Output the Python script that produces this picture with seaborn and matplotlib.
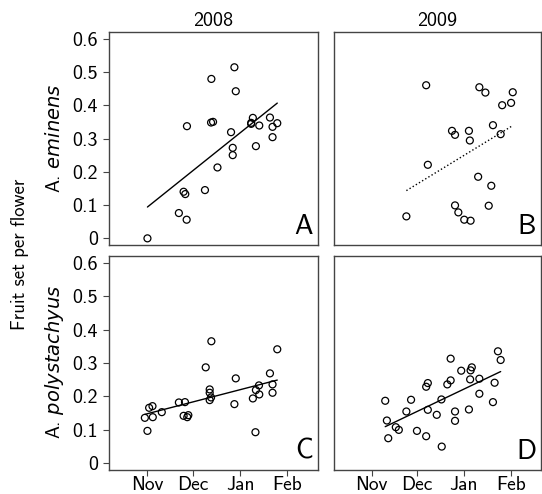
import numpy as np
import pandas as pd
import matplotlib
matplotlib.use("Agg")
import matplotlib.pyplot as plt
import seaborn as sns

sns.set_style("ticks")
plt.rcParams['font.family'] = ['cmss10', 'DejaVu Sans']
plt.rcParams['mathtext.fontset'] = 'custom'
plt.rcParams['mathtext.rm'] = 'cmss10'
plt.rcParams['mathtext.it'] = 'DejaVu Sans:italic'
plt.rcParams['axes.unicode_minus'] = False
plt.rcParams['text.color'] = 'black'

# days since 1 Nov, fruit set per flower
em08_day = [0.2, 20.8, 25.9, 23.9, 25.0, 26.1, 37.9, 42.1, 41.9, 43.2, 46.1, 55.0, 56.1,
            56.1, 57.2, 58.1, 69.3, 68.2, 68.2, 71.3, 73.5, 80.5, 82.2, 82.2, 85.3]
em08_fs = [0.0, 0.076, 0.056, 0.140, 0.133, 0.337, 0.145, 0.479, 0.348, 0.350, 0.213, 0.319,
           0.272, 0.250, 0.514, 0.442, 0.362, 0.347, 0.344, 0.277, 0.339, 0.363, 0.335,
           0.304, 0.346]

em09_day = [22.9, 36.0, 37.1, 53.1, 55.1, 55.1, 57.3, 61.2, 65.4, 64.3, 64.9, 70.4, 71.2,
            75.2, 77.4, 79.1, 80.2, 85.3, 86.3, 92.2, 93.3]
em09_fs = [0.066, 0.460, 0.221, 0.323, 0.311, 0.099, 0.078, 0.056, 0.053, 0.323, 0.294,
           0.185, 0.454, 0.438, 0.098, 0.158, 0.340, 0.313, 0.400, 0.407, 0.439]

po08_day = [-1.5, 0.2, 1.3, 3.5, 3.7, 9.6, 20.8, 24.8, 23.9, 26.3, 27.0, 38.4, 42.1, 41.0,
            41.0, 41.9, 41.0, 57.2, 58.1, 69.3, 71.3, 71.0, 73.3, 73.5, 80.5, 82.2, 82.2, 85.3]
po08_fs = [0.136, 0.097, 0.166, 0.171, 0.138, 0.153, 0.182, 0.183, 0.142, 0.138, 0.144,
           0.287, 0.365, 0.221, 0.211, 0.197, 0.189, 0.177, 0.254, 0.194, 0.219, 0.093,
           0.233, 0.206, 0.269, 0.236, 0.211, 0.341]

po09_day = [8.9, 10.0, 10.9, 15.9, 17.9, 22.9, 26.0, 29.9, 36.0, 36.0, 37.1, 37.1, 43.0,
            46.1, 46.3, 50.0, 52.2, 52.2, 55.1, 55.1, 59.2, 64.3, 65.1, 65.4, 66.2, 71.2,
            71.2, 80.2, 81.3, 83.5, 85.3]
po09_fs = [0.187, 0.128, 0.075, 0.108, 0.100, 0.155, 0.190, 0.097, 0.081, 0.229, 0.240,
           0.160, 0.145, 0.191, 0.050, 0.236, 0.313, 0.248, 0.155, 0.127, 0.277, 0.161,
           0.251, 0.278, 0.287, 0.253, 0.208, 0.183, 0.241, 0.335, 0.309]

month_pos = [0, 30, 61, 92]
month_lab = ["Nov", "Dec", "Jan", "Feb"]
yticks = [0, 0.1, 0.2, 0.3, 0.4, 0.5, 0.6]
ylabs = ["0", "0.1", "0.2", "0.3", "0.4", "0.5", "0.6"]

panels = [
    ("A", em08_day, em08_fs, "-"),
    ("B", em09_day, em09_fs, ":"),
    ("C", po08_day, po08_fs, "-"),
    ("D", po09_day, po09_fs, "-"),
]

fig = plt.figure(figsize=(5.42, 4.94), dpi=100)
W, H = 542, 494
boxes = [(109, 32, 318, 245), (334, 32, 541, 245), (109, 256, 318, 470), (334, 256, 541, 470)]

for i, ((letter, day, fs, ls), (l, t, r, b)) in enumerate(zip(panels, boxes)):
    ax = fig.add_axes([l / W, 1 - b / H, (r - l) / W, (b - t) / H])
    df = pd.DataFrame({"day": day, "fs": fs})
    sns.regplot(data=df, x="day", y="fs", ax=ax, ci=None, color="k",
                scatter_kws={"facecolors": "none", "edgecolors": "k", "s": 25,
                             "linewidths": 0.9, "alpha": 1},
                line_kws={"lw": 1.0, "ls": ls})
    ax.set_xlim(-25, 112)
    ax.set_ylim(-0.02, 0.62)
    ax.set_xlabel("")
    ax.set_ylabel("")
    for s in ax.spines.values():
        s.set_color("#444444")
        s.set_linewidth(1.0)
    ax.tick_params(axis="y", length=4, width=0.8, color="#444444", labelcolor="k",
                   labelsize=14.5, pad=4)
    ax.tick_params(axis="x", length=4, width=0.8, color="#444444", labelcolor="k",
                   labelsize=14, pad=0.5)
    if i >= 2:
        ax.set_xticks(month_pos, month_lab)
    else:
        ax.set_xticks([])
    if i % 2 == 0:
        ax.set_yticks(yticks, ylabs)
    else:
        ax.set_yticks([])
    ax.text(0.976, 0.03, letter, transform=ax.transAxes, ha="right", va="bottom", fontsize=20)
    if i == 0:
        ax.set_title("2008", fontsize=14.5, pad=4, color="k")
    if i == 1:
        ax.set_title("2009", fontsize=14.5, pad=4, color="k")

fig.text(55 / W, 1 - 138 / H, r"A. $\mathit{eminens}$", rotation=90, ha="center", va="center", fontsize=14)
fig.text(55 / W, 1 - 362 / H, r"A. $\mathit{polystachyus}$", rotation=90, ha="center", va="center", fontsize=14)
fig.text(20 / W, 1 - 254 / H, "Fruit set per flower", rotation=90, ha="center", va="center", fontsize=13.5)

fig.savefig("out.png", dpi=100)
